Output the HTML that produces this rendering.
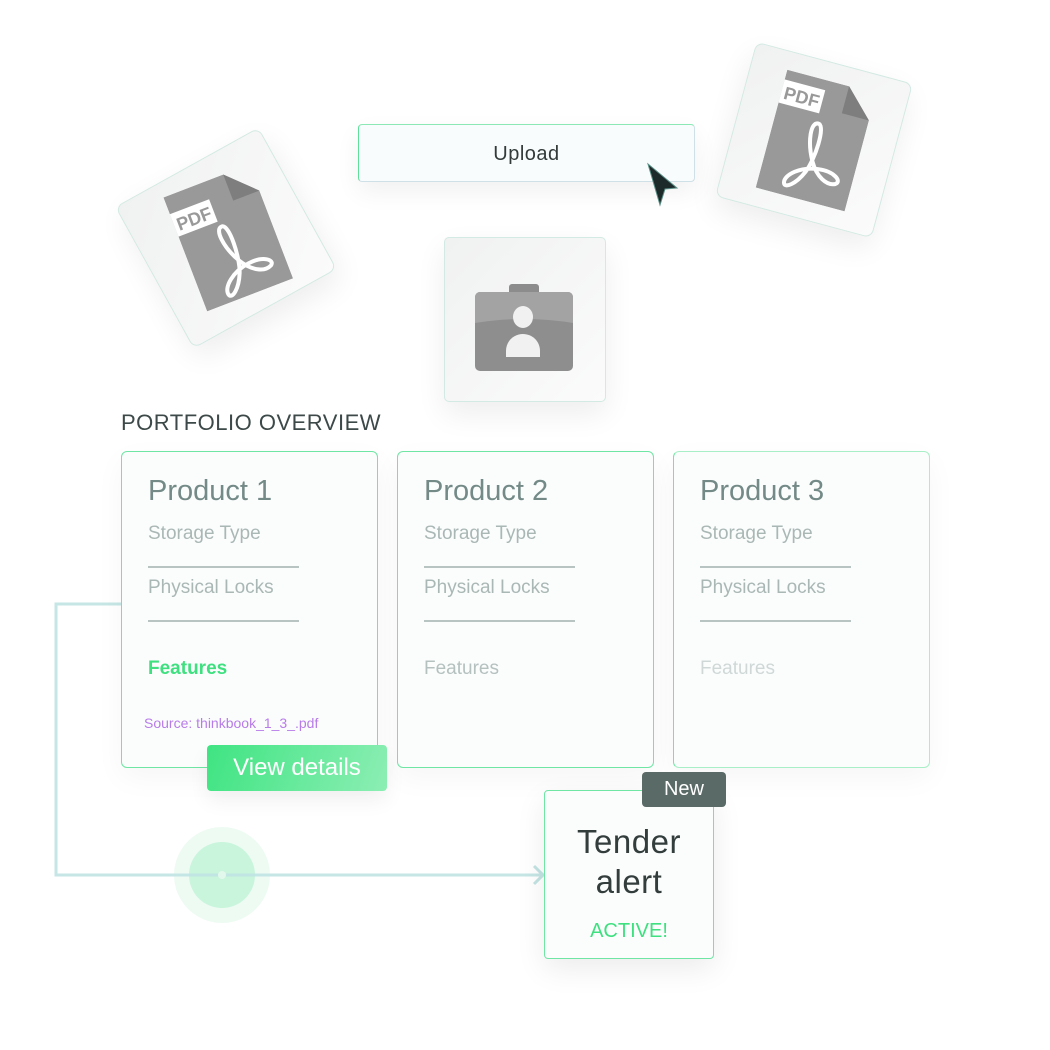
<!DOCTYPE html>
<html><head><meta charset="utf-8"><style>
*{margin:0;padding:0;box-sizing:border-box}
body{width:1050px;height:1050px;background:#fff;position:relative;overflow:hidden;font-family:"Liberation Sans","DejaVu Sans",sans-serif}
.abs{position:absolute}
.tile{position:absolute;background:linear-gradient(135deg,#f0f1f1,#fbfbfb);border:1.5px solid #d3e9e3;border-radius:8px;box-shadow:0 12px 30px rgba(0,0,0,0.07)}
.card{position:absolute;top:451px;width:257px;height:317px;border:1.5px solid #6fe6a4;border-radius:6px;background:#fbfdfd;box-shadow:0 10px 30px rgba(0,0,0,0.04)}
.card .t{position:absolute;left:26px;top:23px;font-size:29px;color:#738a86}
.card .s{position:absolute;left:26px;font-size:19px;color:#aab8b5}
.card .ln{position:absolute;left:26px;width:151px;height:2px;background:#b8c4c2}
</style></head><body>

<!-- left pdf card -->
<div class="tile" style="left:144px;top:157px;width:164px;height:162px;transform:rotate(-29deg)">
  <svg class="abs" style="left:37px;top:20px;transform:rotate(8deg)" width="92" height="122" viewBox="0 0 92 122">
    <path d="M0 0H64L92 28V122H0Z" fill="#999"/><path d="M64 0V28H92Z" fill="#7e7e7e"/>
    <rect x="-4" y="18" width="46" height="24" fill="#fff"/><text x="3" y="37" font-size="18" font-weight="bold" fill="#999" font-family="Liberation Sans,sans-serif">PDF</text>
    <path d="M44 48c-8 0-6 20 4 38 8 14 20 20 28 16 6-4-4-12-20-10-18 2-32 14-30 22 2 6 12-2 18-16 6-14 8-50 0-50z" fill="none" stroke="#fff" stroke-width="4"/>
  </svg>
</div>

<!-- right pdf card -->
<div class="tile" style="left:733px;top:60px;width:162px;height:160px;transform:rotate(15deg)">
  <svg class="abs" style="left:36px;top:18px" width="92" height="122" viewBox="0 0 92 122">
    <path d="M0 0H64L92 28V122H0Z" fill="#999"/><path d="M64 0V28H92Z" fill="#7e7e7e"/>
    <rect x="-4" y="10" width="46" height="24" fill="#fff"/><text x="3" y="29" font-size="18" font-weight="bold" fill="#999" font-family="Liberation Sans,sans-serif">PDF</text>
    <path d="M44 44c-8 0-6 20 4 38 8 14 20 20 28 16 6-4-4-12-20-10-18 2-32 14-30 22 2 6 12-2 18-16 6-14 8-50 0-50z" fill="none" stroke="#fff" stroke-width="4"/>
  </svg>
</div>

<!-- upload -->
<div class="abs" style="left:358px;top:124px;width:337px;height:58px;border:1.5px solid #cfe0e6;border-left-color:#5fe09a;border-top-color:#8ce9b6;border-radius:4px;background:#f9fcfc;box-shadow:0 10px 25px rgba(0,0,0,0.06);text-align:center;line-height:58px;font-size:20px;color:#333b3a;letter-spacing:0.5px">Upload</div>
<svg class="abs" style="left:645px;top:162px" width="36" height="46" viewBox="0 0 36 46"><path d="M3 2L32 26L20 27L15 43Z" fill="#1d2a2a" stroke="#5a8f86" stroke-width="1"/></svg>

<!-- briefcase -->
<div class="tile" style="left:444px;top:237px;width:162px;height:165px;border-radius:5px">
  <svg class="abs" style="left:28px;top:45px" width="102" height="90" viewBox="0 0 102 90">
    <rect x="36" y="1" width="30" height="12" rx="3" fill="#8c8c8c"/>
    <rect x="2" y="9" width="98" height="79" rx="5" fill="#8e8e8e"/>
    <path d="M2 14a5 5 0 015-5h88a5 5 0 015 5v26q-49 -8 -98 0z" fill="#a3a3a3"/>
    <ellipse cx="50" cy="34" rx="10" ry="11" fill="#f1f1f1"/>
    <path d="M33 74v-6c0-10 8-17 17-17s17 7 17 17v6z" fill="#f1f1f1"/>
  </svg>
</div>

<div class="abs" style="left:121px;top:410px;font-size:22px;color:#3c4948;letter-spacing:0.5px">PORTFOLIO OVERVIEW</div>

<!-- connector -->
<svg class="abs" style="left:0;top:0" width="1050" height="1050">
  <circle cx="222" cy="875" r="48" fill="#eefbf3"/>
  <circle cx="222" cy="875" r="33" fill="#c9f5dc"/>
  <path d="M121 604H56V875H542" fill="none" stroke="#bfe3e2" stroke-width="3" opacity="0.9"/>
  <path d="M534 866l9 9-9 9" fill="none" stroke="#c3e4e4" stroke-width="3"/>
  <circle cx="222" cy="875" r="4" fill="#e2f8ec"/>
</svg>

<div class="card" style="left:121px">
  <div class="t">Product 1</div>
  <div class="s" style="top:71px">Storage Type</div><div class="ln" style="top:114px"></div>
  <div class="s" style="top:125px">Physical Locks</div><div class="ln" style="top:168px"></div>
  <div class="s" style="top:206px;color:#3ee07f;font-weight:bold">Features</div>
  <div class="abs" style="left:22px;top:263px;font-size:14px;color:#b87ce8">Source: thinkbook_1_3_.pdf</div>
</div>
<div class="card" style="left:397px">
  <div class="t">Product 2</div>
  <div class="s" style="top:71px">Storage Type</div><div class="ln" style="top:114px"></div>
  <div class="s" style="top:125px">Physical Locks</div><div class="ln" style="top:168px"></div>
  <div class="s" style="top:206px;color:#b4c1bf">Features</div>
</div>
<div class="card" style="left:673px;border-color:#a8efc8;border-left-color:#6fe6a4">
  <div class="t">Product 3</div>
  <div class="s" style="top:71px">Storage Type</div><div class="ln" style="top:114px"></div>
  <div class="s" style="top:125px">Physical Locks</div><div class="ln" style="top:168px"></div>
  <div class="s" style="top:206px;color:#cfd8d7">Features</div>
</div>

<div class="abs" style="left:207px;top:745px;width:180px;height:46px;border-radius:4px;background:linear-gradient(110deg,#3fe482,#8ceeb4);color:#fff;font-size:24px;text-align:center;line-height:46px;box-shadow:0 10px 20px rgba(0,0,0,0.06)">View details</div>

<!-- tender -->
<div class="abs" style="left:544px;top:790px;width:170px;height:169px;border:1.5px solid #6fe6a4;border-radius:4px;background:#fbfdfd;box-shadow:0 10px 30px rgba(0,0,0,0.08);text-align:center">
  <div style="margin-top:31px;font-size:33px;line-height:40px;color:#333d3c;letter-spacing:0.5px">Tender<br>alert</div>
  <div style="margin-top:18px;font-size:20px;color:#3ee07f">ACTIVE!</div>
</div>
<div class="abs" style="left:642px;top:772px;width:84px;height:35px;border-radius:4px;background:#5a6a67;color:#fff;font-size:20px;text-align:center;line-height:35px">New</div>
</body></html>
